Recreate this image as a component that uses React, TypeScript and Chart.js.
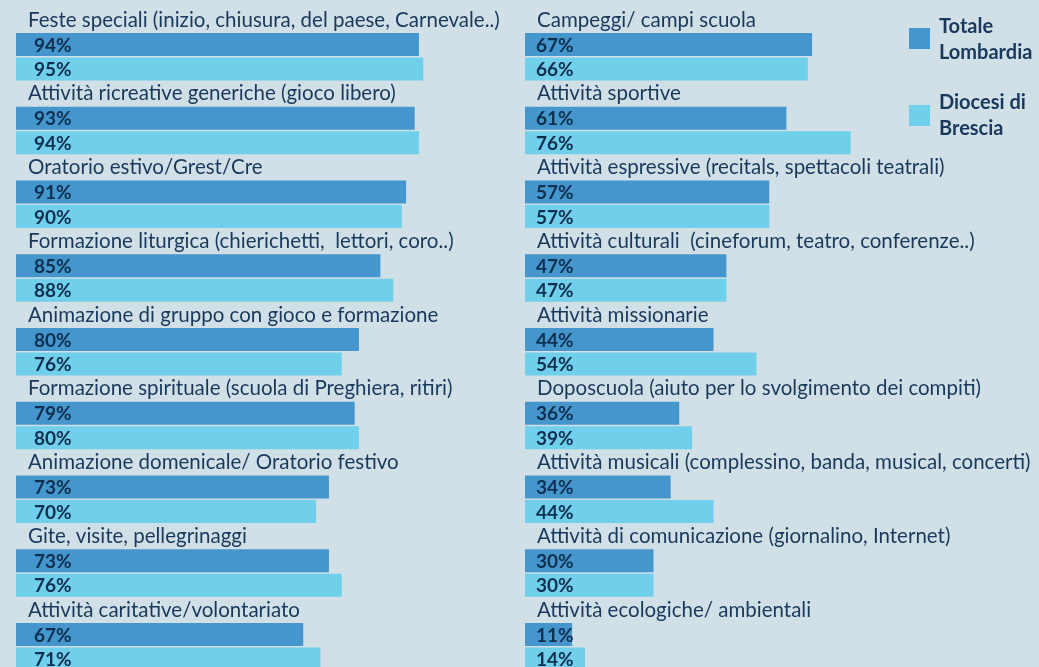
import React, { useEffect, useRef } from "react";
import { Chart, registerables } from "chart.js";

Chart.register(...registerables);

const seriesNames = ["Totale Lombardia", "Diocesi di Brescia"];

const leftCategories = [
  "Feste speciali (inizio, chiusura, del paese, Carnevale..)",
  "Attività ricreative generiche (gioco libero)",
  "Oratorio estivo/Grest/Cre",
  "Formazione liturgica (chierichetti,  lettori, coro..)",
  "Animazione di gruppo con gioco e formazione",
  "Formazione spirituale (scuola di Preghiera, ritiri)",
  "Animazione domenicale/ Oratorio festivo",
  "Gite, visite, pellegrinaggi",
  "Attività caritative/volontariato",
];
const leftLombardia = [94, 93, 91, 85, 80, 79, 73, 73, 67];
const leftBrescia = [95, 94, 90, 88, 76, 80, 70, 76, 71];

const rightCategories = [
  "Campeggi/ campi scuola",
  "Attività sportive",
  "Attività espressive (recitals, spettacoli teatrali)",
  "Attività culturali  (cineforum, teatro, conferenze..)",
  "Attività missionarie",
  "Doposcuola (aiuto per lo svolgimento dei compiti)",
  "Attività musicali (complessino, banda, musical, concerti)",
  "Attività di comunicazione (giornalino, Internet)",
  "Attività ecologiche/ ambientali",
];
const rightLombardia = [67, 61, 57, 47, 44, 36, 34, 30, 11];
const rightBrescia = [66, 76, 57, 47, 54, 39, 44, 30, 14];

const BG = "#d1dfe7";
const DARK = "#4496cc";
const LIGHT = "#70cfea";
const TEXT = "#18395c";
const VALUE_TEXT = "#0f2f50";
const FONT = "Lato, 'Open Sans', sans-serif";

const CANVAS_H = 680;

function makeConfig(
  categories: string[],
  lomb: number[],
  bres: number[],
  valueOffset: number,
  padLeft: number,
  padRight: number
): any {
  const labelPlugin = {
    id: "groupLabels",
    afterDatasetsDraw(chart: any) {
      const ctx = chart.ctx;
      const ys = chart.scales.y;
      const xs = chart.scales.x;
      const left = xs.getPixelForValue(0);
      const step = ys.getPixelForTick(1) - ys.getPixelForTick(0);
      const slot = step / 3;
      ctx.save();
      ctx.textBaseline = "middle";
      ctx.textAlign = "left";
      ctx.fillStyle = TEXT;
      ctx.font = `400 20.5px ${FONT}`;
      categories.forEach((c, i) => {
        const cy = ys.getPixelForTick(i);
        ctx.fillText(c, left + 12, cy - slot);
      });
      ctx.fillStyle = VALUE_TEXT;
      ctx.font = `700 19px ${FONT}`;
      [1, 2].forEach((di) => {
        const meta = chart.getDatasetMeta(di);
        const ds = chart.data.datasets[di];
        meta.data.forEach((el: any, i: number) => {
          ctx.fillText(ds.data[i] + "%", left + valueOffset, el.y + 1);
        });
      });
      ctx.restore();
    },
  };

  return {
    type: "bar",
    data: {
      labels: categories,
      datasets: [
        {
          label: "",
          data: categories.map(() => null),
          backgroundColor: "rgba(0,0,0,0)",
        },
        { label: seriesNames[0], data: lomb, backgroundColor: DARK },
        { label: seriesNames[1], data: bres, backgroundColor: LIGHT },
      ],
    },
    options: {
      indexAxis: "y",
      animation: false,
      responsive: false,
      devicePixelRatio: 1,
      layout: {
        padding: {
          left: padLeft,
          right: padRight,
          top: 7.6,
          bottom: CANVAS_H - 7.6 - 663.75,
        },
      },
      datasets: {
        bar: {
          categoryPercentage: 1,
          barPercentage: 0.94,
          borderWidth: 0,
        },
      },
      scales: {
        x: { display: false, min: 0, max: 100 },
        y: { display: false },
      },
      plugins: {
        legend: { display: false },
        tooltip: { enabled: false },
        title: { display: false },
      },
    },
    plugins: [labelPlugin],
  };
}

export default function App() {
  const leftRef = useRef<HTMLCanvasElement>(null);
  const rightRef = useRef<HTMLCanvasElement>(null);

  useEffect(() => {
    const c1 = new Chart(
      leftRef.current as HTMLCanvasElement,
      makeConfig(leftCategories, leftLombardia, leftBrescia, 18, 16, 520 - 16 - 428.7)
    );
    const c2 = new Chart(
      rightRef.current as HTMLCanvasElement,
      makeConfig(rightCategories, rightLombardia, rightBrescia, 11, 5, 519 - 5 - 428.5)
    );
    return () => {
      c1.destroy();
      c2.destroy();
    };
  }, []);

  const legendText: React.CSSProperties = {
    position: "absolute",
    left: 939,
    fontFamily: FONT,
    fontWeight: 700,
    fontSize: 20,
    lineHeight: "26px",
    color: TEXT,
    whiteSpace: "nowrap",
  };

  return (
    <div
      style={{
        position: "fixed",
        left: 0,
        top: 0,
        width: 1039,
        height: 667,
        overflow: "hidden",
        background: BG,
      }}
    >
      <canvas
        ref={leftRef}
        width={520}
        height={CANVAS_H}
        style={{ position: "absolute", left: 0, top: 0, width: 520, height: CANVAS_H }}
      />
      <canvas
        ref={rightRef}
        width={519}
        height={CANVAS_H}
        style={{ position: "absolute", left: 520, top: 0, width: 519, height: CANVAS_H }}
      />
      <div style={{ position: "absolute", left: 909, top: 28, width: 21, height: 21, background: DARK }} />
      <div style={{ ...legendText, top: 12 }}>
        Totale
        <br />
        Lombardia
      </div>
      <div style={{ position: "absolute", left: 909, top: 105, width: 21, height: 21, background: LIGHT }} />
      <div style={{ ...legendText, top: 88 }}>
        Diocesi di
        <br />
        Brescia
      </div>
    </div>
  );
}
